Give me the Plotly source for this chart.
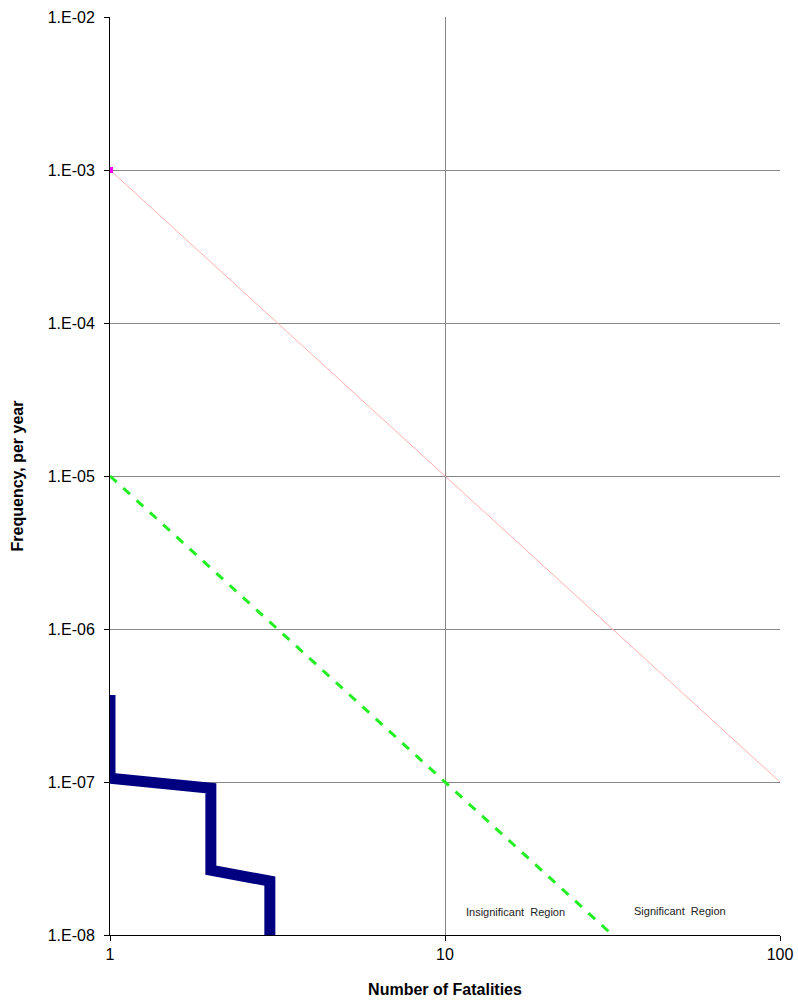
import plotly.graph_objects as go

# Data
fn_x = [1, 1, 2, 2, 3, 3]
fn_y = [3.7e-7, 1.06e-7, 9.1e-8, 2.65e-8, 2.25e-8, 1.0e-8]

upper_x = [1, 100]
upper_y = [1e-3, 1e-7]

lower_x = [1, 10, 100]
lower_y = [1e-5, 1e-7, 1e-9]

y_tickvals = [1e-8, 1e-7, 1e-6, 1e-5, 1e-4, 1e-3, 1e-2]
y_ticktext = ["1.E-08", "1.E-07", "1.E-06", "1.E-05", "1.E-04", "1.E-03", "1.E-02"]
x_tickvals = [1, 10, 100]
x_ticktext = ["1", "10", "100"]

fig = go.Figure()
fig.add_trace(go.Scatter(x=upper_x, y=upper_y, mode="lines",
                         line=dict(color="#ffb0b0", width=1), showlegend=False))
fig.add_trace(go.Scatter(x=[upper_x[0]], y=[upper_y[0]], mode="markers",
                         marker=dict(color="#ff00ff", size=6, symbol="square"), showlegend=False))
fig.add_trace(go.Scatter(x=lower_x, y=lower_y, mode="lines",
                         line=dict(color="#22ee22", width=3, dash="dash"), showlegend=False))
fig.add_trace(go.Scatter(x=fn_x, y=fn_y, mode="lines",
                         line=dict(color="#000080", width=11), showlegend=False))

fig.add_annotation(x=1.21, y=-7.85, xref="x", yref="y", text="Insignificant  Region",
                   showarrow=False, font=dict(size=11, color="#222222", family="Liberation Sans, Arial"))
fig.add_annotation(x=1.70, y=-7.84, xref="x", yref="y", text="Significant  Region",
                   showarrow=False, font=dict(size=11, color="#222222", family="Liberation Sans, Arial"))

fig.update_layout(
    width=798, height=1000,
    margin=dict(l=110, r=18, t=17, b=65),
    plot_bgcolor="white", paper_bgcolor="white",
    font=dict(family="Liberation Sans, Arial", color="#000000", size=15),
)
fig.update_xaxes(type="log", range=[0, 2], tickvals=x_tickvals, ticktext=x_ticktext,
                 tickfont=dict(size=16, color="#000000"), automargin=False,
                 ticklabeloverflow="allow",
                 showgrid=True, gridcolor="#888888", gridwidth=1,
                 showline=True, linecolor="#000000", linewidth=1,
                 ticks="outside", ticklen=5, tickcolor="#000000",
                 zeroline=False,
                 title=dict(text="<b>Number of Fatalities</b>", font=dict(size=16), standoff=21))
fig.update_yaxes(type="log", range=[-8, -2], tickvals=y_tickvals, ticktext=y_ticktext,
                 tickfont=dict(size=16, color="#000000"), automargin=False,
                 ticklabelstandoff=6,
                 showgrid=True, gridcolor="#888888", gridwidth=1,
                 showline=True, linecolor="#000000", linewidth=1,
                 ticks="outside", ticklen=5, tickcolor="#000000",
                 zeroline=False,
                 title=dict(text="<b>Frequency, per year</b>", font=dict(size=16), standoff=20))

fig.write_html("out.html", config={"displayModeBar": False},
               post_script="document.body.style.margin='0';document.body.style.overflow='hidden';")
